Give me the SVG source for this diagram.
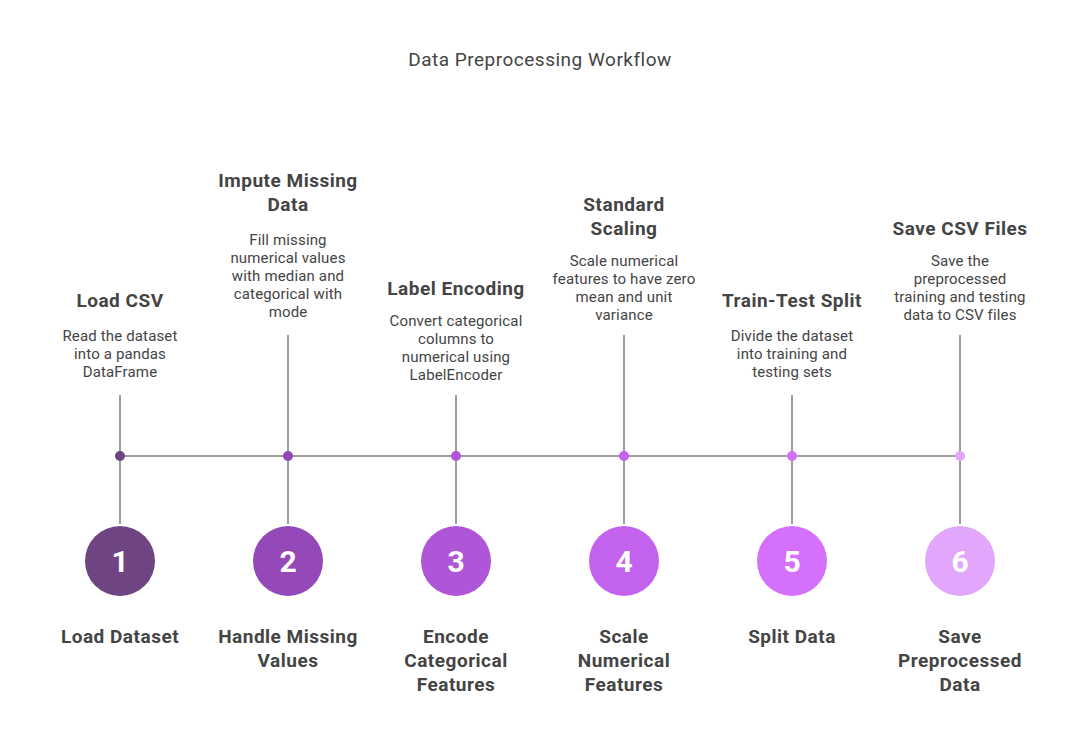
<svg xmlns="http://www.w3.org/2000/svg" width="1080" height="744" viewBox="0 0 1080 744">
<style>
text{font-family:Roboto,"Liberation Sans",sans-serif;fill:#444444;text-anchor:middle}
.t{font-size:19px;letter-spacing:0.5px}
.h{font-size:19px;font-weight:bold;letter-spacing:0.5px}
.d{font-size:15px;letter-spacing:0.15px}
.n{font-size:30px;font-weight:bold;fill:#ffffff}
.ln{stroke:#9e9e9e;stroke-width:2;fill:none}
</style>
<rect width="1080" height="744" fill="#ffffff"/>
<text class="t" x="540" y="66">Data Preprocessing Workflow</text>
<g id="connectors">
<line class="ln" x1="120" y1="456" x2="960" y2="456"/>
<line class="ln" x1="120" y1="395" x2="120" y2="524"/>
<line class="ln" x1="288" y1="335" x2="288" y2="524"/>
<line class="ln" x1="456" y1="395" x2="456" y2="524"/>
<line class="ln" x1="624" y1="335" x2="624" y2="524"/>
<line class="ln" x1="792" y1="395" x2="792" y2="524"/>
<line class="ln" x1="960" y1="335" x2="960" y2="524"/>
</g>
<g id="step1">
<text class="h" x="120" y="307">Load CSV</text>
<text class="d" x="120" y="341">Read the dataset</text>
<text class="d" x="120" y="359">into a pandas</text>
<text class="d" x="120" y="377">DataFrame</text>
<circle cx="120" cy="456" r="5" fill="#6e4582"/>
<circle cx="120" cy="561" r="35" fill="#6e4582"/>
<text class="n" x="120" y="572">1</text>
<text class="h" x="120" y="643">Load Dataset</text>
</g>
<g id="step2">
<text class="h" x="288" y="187">Impute Missing</text>
<text class="h" x="288" y="211">Data</text>
<text class="d" x="288" y="245">Fill missing</text>
<text class="d" x="288" y="263">numerical values</text>
<text class="d" x="288" y="281">with median and</text>
<text class="d" x="288" y="299">categorical with</text>
<text class="d" x="288" y="317">mode</text>
<circle cx="288" cy="456" r="5" fill="#9549b8"/>
<circle cx="288" cy="561" r="35" fill="#9549b8"/>
<text class="n" x="288" y="572">2</text>
<text class="h" x="288" y="643">Handle Missing</text>
<text class="h" x="288" y="667">Values</text>
</g>
<g id="step3">
<text class="h" x="456" y="295">Label Encoding</text>
<text class="d" x="456" y="326">Convert categorical</text>
<text class="d" x="456" y="344">columns to</text>
<text class="d" x="456" y="362">numerical using</text>
<text class="d" x="456" y="380">LabelEncoder</text>
<circle cx="456" cy="456" r="5" fill="#ae55d8"/>
<circle cx="456" cy="561" r="35" fill="#ae55d8"/>
<text class="n" x="456" y="572">3</text>
<text class="h" x="456" y="643">Encode</text>
<text class="h" x="456" y="667">Categorical</text>
<text class="h" x="456" y="691">Features</text>
</g>
<g id="step4">
<text class="h" x="624" y="211">Standard</text>
<text class="h" x="624" y="235">Scaling</text>
<text class="d" x="624" y="266">Scale numerical</text>
<text class="d" x="624" y="284">features to have zero</text>
<text class="d" x="624" y="302">mean and unit</text>
<text class="d" x="624" y="320">variance</text>
<circle cx="624" cy="456" r="5" fill="#c262ee"/>
<circle cx="624" cy="561" r="35" fill="#c262ee"/>
<text class="n" x="624" y="572">4</text>
<text class="h" x="624" y="643">Scale</text>
<text class="h" x="624" y="667">Numerical</text>
<text class="h" x="624" y="691">Features</text>
</g>
<g id="step5">
<text class="h" x="792" y="307">Train-Test Split</text>
<text class="d" x="792" y="341">Divide the dataset</text>
<text class="d" x="792" y="359">into training and</text>
<text class="d" x="792" y="377">testing sets</text>
<circle cx="792" cy="456" r="5" fill="#d470fb"/>
<circle cx="792" cy="561" r="35" fill="#d470fb"/>
<text class="n" x="792" y="572">5</text>
<text class="h" x="792" y="643">Split Data</text>
</g>
<g id="step6">
<text class="h" x="960" y="235">Save CSV Files</text>
<text class="d" x="960" y="266">Save the</text>
<text class="d" x="960" y="284">preprocessed</text>
<text class="d" x="960" y="302">training and testing</text>
<text class="d" x="960" y="320">data to CSV files</text>
<circle cx="960" cy="456" r="5" fill="#e2a6fc"/>
<circle cx="960" cy="561" r="35" fill="#e2a6fc"/>
<text class="n" x="960" y="572">6</text>
<text class="h" x="960" y="643">Save</text>
<text class="h" x="960" y="667">Preprocessed</text>
<text class="h" x="960" y="691">Data</text>
</g>
</svg>
